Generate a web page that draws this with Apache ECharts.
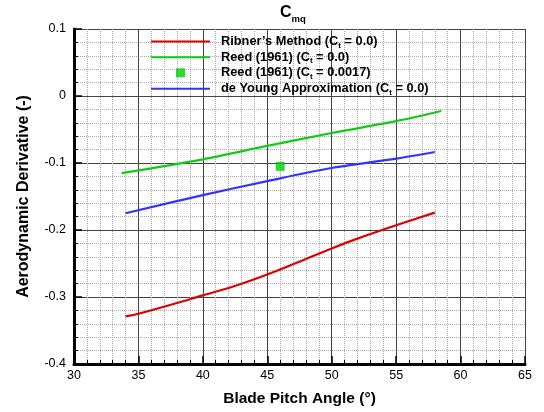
<!DOCTYPE html>
<html>
<head>
<meta charset="utf-8">
<script src="https://cdn.jsdelivr.net/npm/echarts@6/dist/echarts.min.js"></script>
<style>
  html, body { margin: 0; padding: 0; background: #fff; }
  #chart { width: 544px; height: 412px; }
</style>
</head>
<body>
<div id="chart"></div>
<script>
// values
var ribnerX = [34, 35, 38, 40, 42, 44, 46, 48, 50, 52, 55, 58];
var ribnerY = [-0.329, -0.325, -0.309, -0.2975, -0.2865, -0.2735, -0.259, -0.2432, -0.2275, -0.2129, -0.193, -0.174];

var reedX = [33.7, 40, 45, 50, 55, 58.5];
var reedY = [-0.115, -0.0945, -0.0745, -0.0552, -0.0375, -0.0224];

var reedPointX = [46];
var reedPointY = [-0.105];

var youngX = [34, 40, 45, 50, 55, 58];
var youngY = [-0.175, -0.148, -0.127, -0.1075, -0.0935, -0.0836];

var seriesNames = ['Ribner', 'Reed0', 'Reed17', 'Young'];
var legendLabels = {
    Ribner: '{r|Ribner\u2019s Method (C}{s|t}{r| = 0.0)}',
    Reed0: '{r|Reed (1961) (C}{s|t}{r| = 0.0)}',
    Reed17: '{r|Reed (1961) (C}{s|t}{r| = 0.0017)}',
    Young: '{r|de Young Approximation (C}{s|t}{r| = 0.0)}'
};
var legendRows = [41, 56.7, 72.3, 88.3];

function pairs(xs, ys) {
    return xs.map(function (x, i) { return [x, ys[i]]; });
}

var font = 'Liberation Sans, Arial, Helvetica, sans-serif';
var rich = {
    r: { fontFamily: font, fontWeight: 'bold', fontSize: 12.8, color: '#000', lineHeight: 16 },
    s: { fontFamily: font, fontWeight: 'bold', fontSize: 8, color: '#000', lineHeight: 16, verticalAlign: 'bottom' }
};

var myChart = echarts.init(document.getElementById('chart'));

var legends = seriesNames.map(function (name, i) {
    var isPoint = name === 'Reed17';
    return {
        data: [name],
        orient: 'vertical',
        left: isPoint ? 176 : 151,
        top: legendRows[i] - 6,
        padding: 0,
        icon: 'rect',
        itemWidth: isPoint ? 9 : 59,
        itemHeight: isPoint ? 9 : 2,
        selectedMode: false,
        formatter: function (n) { return legendLabels[n]; },
        textStyle: { rich: rich, padding: [0, 0, 0, isPoint ? 31 : 6] }
    };
});

var option = {
    animation: false,
    title: {
        text: '{c|C}{s|mq}',
        left: 280,
        top: 2,
        padding: 0,
        textStyle: {
            rich: {
                c: { fontFamily: font, fontWeight: 'bold', fontSize: 16, color: '#000', lineHeight: 22 },
                s: { fontFamily: font, fontWeight: 'bold', fontSize: 9.5, color: '#000', lineHeight: 22, verticalAlign: 'bottom' }
            }
        }
    },
    legend: legends,
    grid: { left: 74, right: 19, top: 29, bottom: 48 },
    xAxis: {
        type: 'value',
        min: 30,
        max: 65,
        interval: 5,
        name: 'Blade Pitch Angle (\u00b0)',
        nameLocation: 'middle',
        nameGap: 27,
        nameTextStyle: { fontFamily: font, fontWeight: 'bold', fontSize: 15.5, color: '#000' },
        axisLine: { onZero: false, lineStyle: { color: '#000', width: 3 } },
        axisTick: { inside: true, length: 8, lineStyle: { color: '#000', width: 1.5 } },
        minorTick: { show: true, splitNumber: 5, length: 4, lineStyle: { color: '#000', width: 1 } },
        axisLabel: { fontFamily: font, fontSize: 12.5, color: '#000', margin: 5 },
        splitLine: { lineStyle: { color: '#444', width: 1 } },
        minorSplitLine: { show: true, lineStyle: { color: '#aaa', width: 1, type: 'dotted' } }
    },
    yAxis: {
        type: 'value',
        min: -0.4,
        max: 0.1,
        interval: 0.1,
        name: 'Aerodynamic Derivative (-)',
        nameLocation: 'middle',
        nameGap: 42,
        nameTextStyle: { fontFamily: font, fontWeight: 'bold', fontSize: 16, color: '#000' },
        axisLine: { show: true, onZero: false, lineStyle: { color: '#000', width: 3 } },
        axisTick: { show: true, inside: true, length: 8, lineStyle: { color: '#000', width: 1.5 } },
        minorTick: { show: true, splitNumber: 5, length: 4, lineStyle: { color: '#000', width: 1 } },
        axisLabel: { fontFamily: font, fontSize: 12.5, color: '#000', margin: 8 },
        splitLine: { lineStyle: { color: '#444', width: 1 } },
        minorSplitLine: { show: true, lineStyle: { color: '#aaa', width: 1, type: 'dotted' } }
    },
    series: [
        {
            name: 'Ribner',
            type: 'line',
            symbol: 'none',
            smooth: 0.3,
            data: pairs(ribnerX, ribnerY),
            lineStyle: { color: '#dd0000', width: 2.2 },
            itemStyle: { color: '#dd0000' }
        },
        {
            name: 'Reed0',
            type: 'line',
            symbol: 'none',
            smooth: 0.3,
            data: pairs(reedX, reedY),
            lineStyle: { color: '#11cc11', width: 2.2 },
            itemStyle: { color: '#11cc11' }
        },
        {
            name: 'Reed17',
            type: 'scatter',
            symbol: 'rect',
            symbolSize: 9,
            data: pairs(reedPointX, reedPointY),
            itemStyle: { color: '#00d000' }
        },
        {
            name: 'Young',
            type: 'line',
            symbol: 'none',
            smooth: 0.3,
            data: pairs(youngX, youngY),
            lineStyle: { color: '#3333ff', width: 2.2 },
            itemStyle: { color: '#3333ff' }
        }
    ]
};

myChart.setOption(option);
</script>
</body>
</html>
